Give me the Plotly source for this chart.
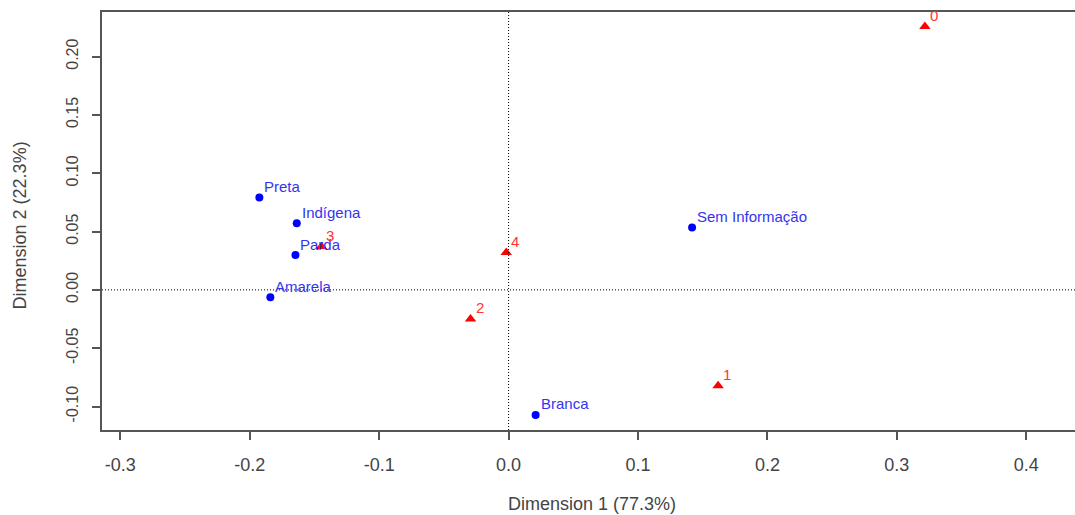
import plotly.graph_objects as go

# Row categories (blue circles)
row_labels = ["Preta", "Indígena", "Parda", "Amarela", "Branca", "Sem Informação"]
row_x = [-0.1926, -0.1637, -0.1647, -0.1841, 0.0209, 0.1418]
row_y = [0.0792, 0.0572, 0.0298, -0.0063, -0.1072, 0.0534]

# Column categories (red triangles)
col_labels = ["0", "1", "2", "3", "4"]
col_x = [0.3217, 0.1619, -0.0294, -0.1446, -0.0018]
col_y = [0.2258, -0.0821, -0.0249, 0.0371, 0.0320]

x_ticks = [-0.3, -0.2, -0.1, 0.0, 0.1, 0.2, 0.3, 0.4]
x_ticktext = ["-0.3", "-0.2", "-0.1", "0.0", "0.1", "0.2", "0.3", "0.4"]
y_ticks = [-0.10, -0.05, 0.00, 0.05, 0.10, 0.15, 0.20]
y_ticktext = ["-0.10", "-0.05", "0.00", "0.05", "0.10", "0.15", "0.20"]

x_title = "Dimension 1 (77.3%)"
y_title = "Dimension 2 (22.3%)"

X_RANGE = [-0.3142, 0.4377]
Y_RANGE = [-0.1201, 0.2382]

FONT = "Liberation Sans, Arial, sans-serif"
AXIS_COLOR = "#555555"
TEXT_COLOR = "#444444"

fig = go.Figure()

fig.add_trace(go.Scatter(
    x=row_x, y=row_y, mode="markers",
    marker=dict(symbol="circle", size=8, color="#0000ff"),
    hoverinfo="skip", showlegend=False,
))
fig.add_trace(go.Scatter(
    x=col_x, y=col_y, mode="markers",
    marker=dict(symbol="triangle-up", size=10, color="#ff0000"),
    hoverinfo="skip", showlegend=False,
))

annotations = []
for lab, x, y in zip(row_labels, row_x, row_y):
    annotations.append(dict(
        x=x, y=y, xref="x", yref="y", text=lab, showarrow=False,
        xanchor="left", yanchor="middle", xshift=3, yshift=11,
        font=dict(family=FONT, size=15, color="#3434f0"),
    ))
for lab, x, y in zip(col_labels, col_x, col_y):
    annotations.append(dict(
        x=x, y=y, xref="x", yref="y", text=lab, showarrow=False,
        xanchor="left", yanchor="middle", xshift=3, yshift=11,
        font=dict(family=FONT, size=15, color="#ff3434"),
    ))

annotations.append(dict(
    x=0.5036, y=-0.177, xref="paper", yref="paper", text=x_title,
    showarrow=False, xanchor="center", yanchor="middle",
    font=dict(family=FONT, size=18, color=TEXT_COLOR),
))
annotations.append(dict(
    x=-0.084, y=0.49, xref="paper", yref="paper", text=y_title,
    showarrow=False, xanchor="center", yanchor="middle", textangle=-90,
    font=dict(family=FONT, size=18, color=TEXT_COLOR),
))

shapes = [
    dict(type="line", xref="x", yref="paper", x0=0, x1=0, y0=0, y1=1,
         line=dict(color="black", width=1, dash="1px,2px")),
    dict(type="line", xref="paper", yref="y", x0=0, x1=1, y0=0, y1=0,
         line=dict(color="black", width=1, dash="1px,2px")),
]

fig.update_layout(
    width=1075, height=515, autosize=False,
    margin=dict(l=102, r=0, t=12, b=85),
    paper_bgcolor="white", plot_bgcolor="white",
    annotations=annotations, shapes=shapes,
    xaxis=dict(
        range=X_RANGE, tickvals=x_ticks, ticktext=x_ticktext,
        showgrid=False, zeroline=False,
        showline=True, mirror=True, linecolor=AXIS_COLOR, linewidth=1.5,
        ticks="outside", ticklen=8, tickwidth=1.5, tickcolor=AXIS_COLOR,
        tickfont=dict(family=FONT, size=18, color=TEXT_COLOR),
        ticklabelstandoff=10,
    ),
    yaxis=dict(
        range=Y_RANGE, tickvals=y_ticks, ticktext=y_ticktext,
        showgrid=False, zeroline=False,
        showline=True, mirror=False, linecolor=AXIS_COLOR, linewidth=1.5,
        ticks="outside", ticklen=8, tickwidth=1.5, tickcolor=AXIS_COLOR,
        tickfont=dict(family=FONT, size=16, color=TEXT_COLOR),
        tickangle=-90, ticklabelstandoff=8,
    ),
)

fig.write_html(
    "out.html",
    config={"displayModeBar": False},
    post_script="document.body.style.margin='0';document.body.style.overflow='hidden';",
)
